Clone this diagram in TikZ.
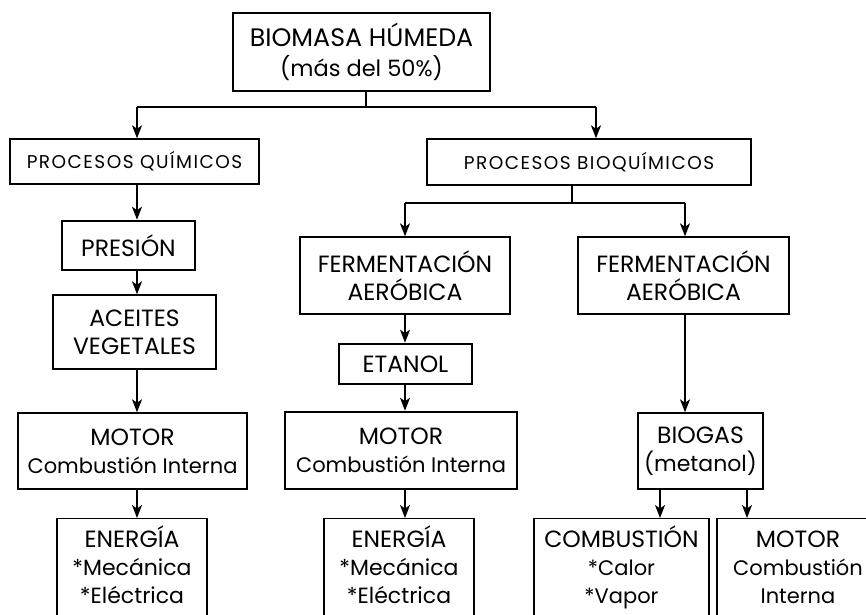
\documentclass[tikz,border=0pt]{standalone}
\usepackage{fontspec}
\setmainfont{Poppins}
\newfontfamily\widefont[LetterSpace=8]{Poppins}
\usetikzlibrary{arrows.meta}
\newcommand\Csz{\fontsize{23.5}{28}\selectfont}
\newcommand\Msz{\fontsize{21}{28}\selectfont}
\newcommand\Esz{\fontsize{22}{28}\selectfont}
\newcommand\topstrut{\rule{0pt}{29pt}}
\newcommand\botstrut{\rule[-40pt]{0pt}{1pt}}
\begin{document}
\begin{tikzpicture}[x=1pt,y=-1pt,
  box/.style={draw,line width=1.4pt,inner sep=0pt,align=center,anchor=center,font=\Csz},
  thickbox/.style={box,line width=2.6pt},
  openbox/.style={box,anchor=north},
  conn/.style={line width=1.8pt},
  arr/.style={line width=1.6pt,-{Stealth[length=13pt,width=10pt,inset=3.5pt]}}
]
\clip (0,0) rectangle (866,614);
\fill[white] (0,0) rectangle (866,614);
% column coordinates
\coordinate (c1) at (137,0);
\coordinate (c2) at (405,0);
\coordinate (c3) at (685,0);
\coordinate (c4) at (660,0);
\coordinate (c5) at (747,0);
\coordinate (c0) at (366,0);
\coordinate (cb) at (572,0);
% nodes
\node[box,font=\fontsize{25.3}{30}\selectfont,minimum width=257pt,minimum height=78pt] (top) at (361.5,52)
  {BIOMASA HÚMEDA\\\fontsize{22.5}{30}\selectfont(más del 50\%)};
\node[box,font=\widefont\fontsize{18.5}{22}\selectfont,minimum width=249pt,minimum height=45pt] (pq) at (134.5,161.5) {PROCESOS QUÍMICOS};
\node[box,font=\widefont\fontsize{18.5}{22}\selectfont,minimum width=324pt,minimum height=46pt] (pb) at (589,162) {PROCESOS BIOQUÍMICOS};
\node[thickbox,minimum width=133pt,minimum height=49pt] (pres) at (128.5,245.5) {PRESIÓN};
\node[box,minimum width=163pt,minimum height=74pt] (acei) at (134.5,332) {ACEITES\\VEGETALES};
\node[box,minimum width=229pt,minimum height=76pt] (motl) at (132.5,451) {MOTOR\\\Msz Combustión Interna};
\node[openbox,minimum width=150pt] (enl) at (132,518) {\topstrut ENERGÍA\\\Esz *Mecánica\\\Esz *Eléctrica\botstrut};
\node[box,minimum width=210pt,minimum height=77pt] (fl) at (405,275.5) {FERMENTACIÓN\\AERÓBICA};
\node[box,minimum width=211pt,minimum height=77pt] (fr) at (683.5,275.5) {FERMENTACIÓN\\AERÓBICA};
\node[thickbox,minimum width=133pt,minimum height=40pt] (eta) at (405.5,364) {ETANOL};
\node[thickbox,minimum width=232pt,minimum height=77pt] (motm) at (401,450.5) {MOTOR\\\Msz Combustión Interna};
\node[openbox,minimum width=150pt] (enm) at (399,518) {\topstrut ENERGÍA\\\Esz *Mecánica\\\Esz *Eléctrica\botstrut};
\node[box,minimum width=125pt,minimum height=76pt] (bio) at (700.5,451) {BIOGAS\\\Esz (metanol)};
\node[openbox,minimum width=175pt] (comb) at (621.5,518) {\topstrut COMBUSTIÓN\\\Msz *Calor\\\Msz *Vapor\botstrut};
\node[openbox,minimum width=162pt] (motr) at (798,518) {\topstrut MOTOR\\\Msz Combustión\\\Msz Interna\botstrut};
% connectors
\coordinate (j0) at (366,107);
\coordinate (jl) at (137,107);
\coordinate (jr) at (596,107);
\draw[conn] (top.south -| c0) -- (j0);
\draw[conn] (jl) -- (jr);
\draw[arr] (jl) -- (pq.north -| jl);
\draw[arr] (jr) -- (pb.north -| jr);
\coordinate (k0) at (572,203);
\coordinate (kl) at (405,203);
\coordinate (kr) at (685,203);
\draw[conn] (pb.south -| cb) -- (k0);
\draw[conn] (kl) -- (kr);
\draw[arr] (kl) -- (fl.north -| kl);
\draw[arr] (kr) -- (fr.north -| kr);
\draw[arr] (pq.south -| c1) -- (pres.north -| c1);
\draw[arr] (pres.south -| c1) -- (acei.north -| c1);
\draw[arr] (acei.south -| c1) -- (motl.north -| c1);
\draw[arr] (motl.south -| c1) -- (enl.north -| c1);
\draw[arr] (fl.south -| c2) -- (eta.north -| c2);
\draw[arr] (eta.south -| c2) -- (motm.north -| c2);
\draw[arr] (motm.south -| c2) -- (enm.north -| c2);
\draw[arr] (fr.south -| c3) -- (bio.north -| c3);
\draw[arr] (bio.south -| c4) -- (comb.north -| c4);
\draw[arr] (bio.south -| c5) -- (motr.north -| c5);
\end{tikzpicture}
\end{document}
